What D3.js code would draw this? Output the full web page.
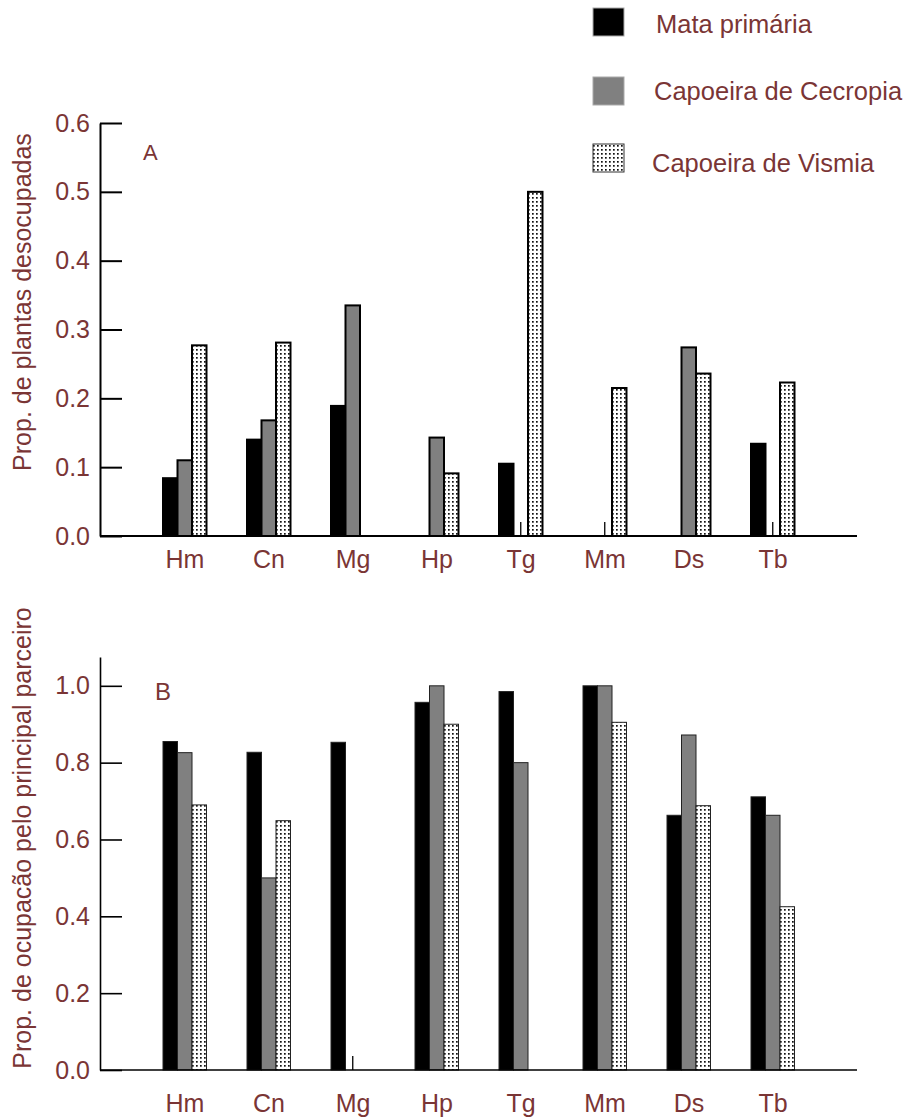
<!DOCTYPE html>
<head>
  <meta charset="utf-8">
  <script src="https://d3js.org/d3.v7.min.js"></script>
  <style>
    body { margin: 0; padding: 0; background: #fff; }
    text { font-family: "Liberation Sans", Arial, sans-serif; fill: #7a3535; }
  </style>
</head>
<body>
  <script>
    // categories (species) and series (habitats)
    var categories = ["Hm", "Cn", "Mg", "Hp", "Tg", "Mm", "Ds", "Tb"],
      series = ["Mata primária", "Capoeira de Cecropia", "Capoeira de Vismia"];

    // panel A: proportion of unoccupied plants
    var desocMata = [0.084, 0.140, 0.189, 0, 0.105, 0, 0, 0.134],
      desocCecropia = [0.110, 0.168, 0.335, 0.143, 0, 0, 0.274, 0],
      desocVismia = [0.277, 0.281, 0, 0.091, 0.500, 0.215, 0.236, 0.223];

    // panel B: proportion occupied by the main partner
    var ocupMata = [0.855, 0.827, 0.853, 0.957, 0.985, 1.0, 0.663, 0.711],
      ocupCecropia = [0.826, 0.500, 0, 1.0, 0.800, 1.0, 0.872, 0.663],
      ocupVismia = [0.690, 0.649, 0, 0.900, 0, 0.905, 0.688, 0.425];

    var ticksA = [0, 0.1, 0.2, 0.3, 0.4, 0.5, 0.6],
      ticksB = [0, 0.2, 0.4, 0.6, 0.8, 1.0];

    var width = 904, height = 1119;

    var svg = d3.select("body").append("svg")
      .attr("width", width)
      .attr("height", height);

    var pat = svg.append("defs").append("pattern")
      .attr("id", "dots")
      .attr("width", 4).attr("height", 4)
      .attr("patternUnits", "userSpaceOnUse");
    pat.append("rect").attr("width", 4).attr("height", 4).attr("fill", "#fff");
    pat.append("rect").attr("x", 1).attr("y", 1)
      .attr("width", 1.7).attr("height", 1.7).attr("fill", "#111");

    var fills = ["#000", "#808080", "url(#dots)"];

    var x = d3.scaleBand().domain(categories).range([143, 815]);
    var xs = d3.scaleBand().domain(series).range([20, 63.5]);

    function panel(cfg) {
      var g = svg.append("g");
      var y = d3.scaleLinear().domain(cfg.domain).range([cfg.bottom, cfg.top]);

      // y axis, ticks pointing into the plot
      var yAxis = g.append("g")
        .attr("transform", "translate(100,0)")
        .call(d3.axisLeft(y)
          .tickValues(cfg.ticks)
          .tickFormat(d3.format(".1f"))
          .tickSizeInner(-22)
          .tickSizeOuter(0)
          .tickPadding(10));
      yAxis.selectAll("line").attr("stroke", "#000").attr("stroke-width", cfg.axisW);
      yAxis.select(".domain").attr("stroke", "#000").attr("stroke-width", cfg.axisW);
      yAxis.selectAll("text")
        .attr("font-size", 25)
        .attr("fill", "#7a3535")
        .style("font-family", "'Liberation Sans', Arial, sans-serif");

      // bars
      var rows = categories.map(function (c, i) {
        return series.map(function (s, j) {
          return { cat: c, ser: s, j: j, v: cfg.values[j][i] };
        });
      });

      g.selectAll(".grp")
        .data(rows)
        .enter().append("g")
        .attr("transform", function (d) { return "translate(" + x(d[0].cat) + ",0)"; })
        .selectAll("rect")
        .data(function (d) { return d.filter(function (e) { return !(e.j == 2 && e.v == 0); }); })
        .enter().append("rect")
        .attr("x", function (d) { return xs(d.ser); })
        .attr("width", xs.bandwidth())
        .attr("y", function (d) { return y(d.v); })
        .attr("height", function (d) { return y(0) - y(d.v); })
        .attr("fill", function (d) { return fills[d.j]; })
        .attr("stroke", cfg.barStroke)
        .attr("stroke-width", cfg.barW);

      // small marks left where the Cecropia value is zero
      g.selectAll(".zero")
        .data(categories.filter(function (c, i) { return cfg.values[1][i] == 0; }))
        .enter().append("line")
        .attr("x1", function (c) { return x(c) + xs(series[1]) + xs.bandwidth() / 2; })
        .attr("x2", function (c) { return x(c) + xs(series[1]) + xs.bandwidth() / 2; })
        .attr("y1", y(0))
        .attr("y2", y(0) - 14)
        .attr("stroke", "#000")
        .attr("stroke-width", 1.3);

      // x axis
      g.append("line")
        .attr("x1", 100).attr("x2", 857)
        .attr("y1", y(0)).attr("y2", y(0))
        .attr("stroke", "#000").attr("stroke-width", cfg.axisW);

      var xAxis = g.append("g")
        .attr("transform", "translate(0," + y(0) + ")")
        .call(d3.axisBottom(x).tickSize(0).tickPadding(cfg.labelPad));
      xAxis.select(".domain").remove();
      xAxis.selectAll("text")
        .attr("font-size", 25)
        .attr("fill", "#7a3535")
        .style("font-family", "'Liberation Sans', Arial, sans-serif");

      g.append("text")
        .attr("transform", "translate(31," + cfg.titleY + ") rotate(-90)")
        .attr("text-anchor", "middle")
        .attr("font-size", 25)
        .text(cfg.title);

      g.append("text")
        .attr("x", cfg.letterX).attr("y", cfg.letterY)
        .attr("font-size", cfg.letterSize)
        .text(cfg.letter);
    }

    panel({
      domain: [0, 0.6], top: 123, bottom: 536, ticks: ticksA,
      values: [desocMata, desocCecropia, desocVismia],
      axisW: 2, barStroke: "#000", barW: 2, labelPad: 14,
      title: "Prop. de plantas desocupadas", titleY: 302,
      letter: "A", letterX: 143, letterY: 160, letterSize: 22
    });

    panel({
      domain: [0, 1.075], top: 657, bottom: 1070, ticks: ticksB,
      values: [ocupMata, ocupCecropia, ocupVismia],
      axisW: 1.6, barStroke: "#222", barW: 1, labelPad: 24,
      title: "Prop. de ocupacão pelo principal parceiro", titleY: 838,
      letter: "B", letterX: 155, letterY: 700, letterSize: 24
    });

    // legend
    var legY = [8, 77, 144], legBase = [33, 100, 172], legX = [656, 654, 652];
    var leg = svg.append("g").selectAll("g")
      .data(series)
      .enter().append("g");
    leg.append("rect")
      .attr("x", 593)
      .attr("y", function (d, i) { return legY[i]; })
      .attr("width", 31).attr("height", 28)
      .attr("fill", function (d, i) { return fills[i]; })
      .attr("stroke", function (d, i) { return i == 2 ? "#333" : "#aaa"; })
      .attr("stroke-width", 1);
    leg.append("text")
      .attr("x", function (d, i) { return legX[i]; })
      .attr("y", function (d, i) { return legBase[i]; })
      .attr("font-size", 25.5)
      .text(function (d) { return d; });
  </script>
</body>
